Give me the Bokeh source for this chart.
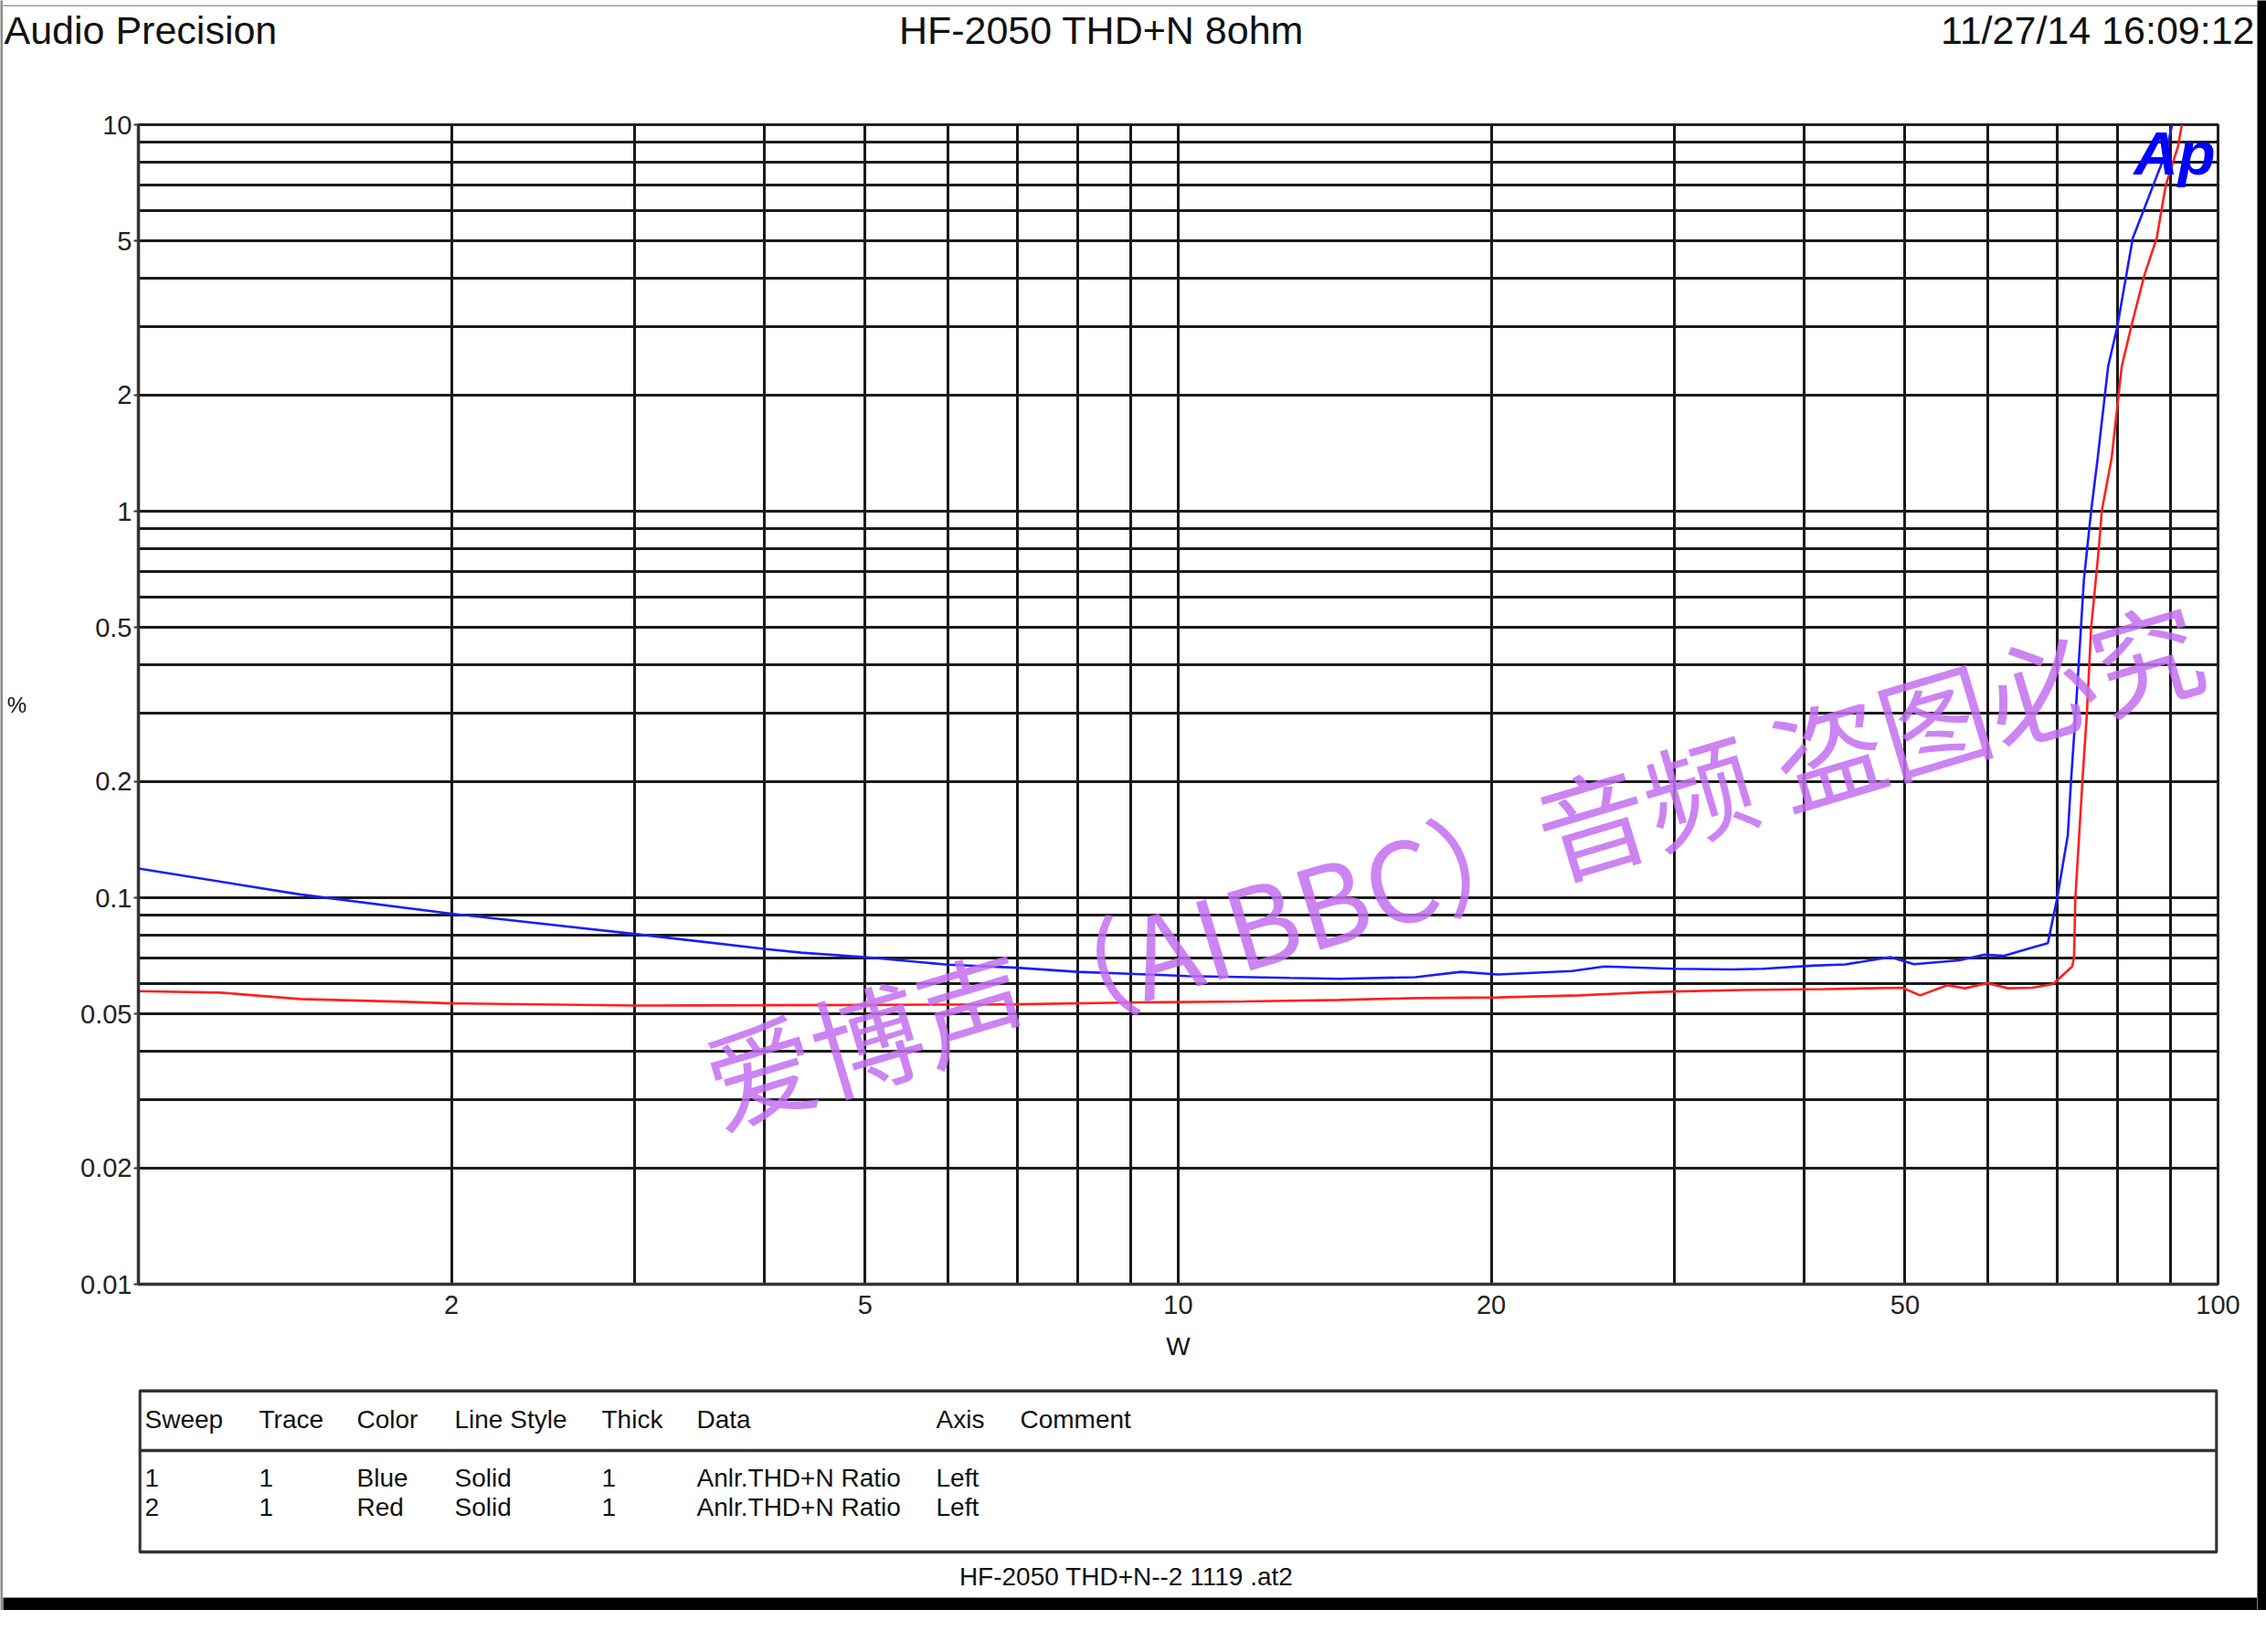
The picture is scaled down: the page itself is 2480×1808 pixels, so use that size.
from bokeh.plotting import figure
from bokeh.models import Range1d, FixedTicker, Label
from bokeh.layouts import column, row
from bokeh.embed import file_html
from bokeh.resources import INLINE

# ---------------- data ----------------
blue_w = [1.0, 1.43, 2.0, 3.0, 4.0, 4.34, 5.0, 6.0, 7.0, 8.0, 9.1, 10.2, 12.8, 14.3, 16.9,
          18.7, 20.3, 23.9, 25.7, 30.0, 34.0, 36.5, 40.7, 43.8, 48.4, 51.0, 56.4, 59.5,
          62.3, 65.7, 68.6, 70.0, 71.7, 72.2, 73.0, 74.3, 75.5, 76.6, 78.4, 80.0, 82.8,
          85.0, 87.0, 89.1, 90.3]
blue_pct = [0.119, 0.102, 0.0909, 0.0806, 0.0737, 0.0721, 0.0702, 0.0671, 0.0659, 0.0643,
            0.0635, 0.0627, 0.0620, 0.0617, 0.0623, 0.0643, 0.0633, 0.0646, 0.0664, 0.0655,
            0.0652, 0.0655, 0.0667, 0.0672, 0.0702, 0.0673, 0.0689, 0.0712, 0.0708, 0.0738,
            0.0763, 0.0991, 0.145, 0.199, 0.308, 0.664, 1.0, 1.37, 2.37, 3.0, 5.09, 6.1,
            7.18, 8.46, 9.96]

red_w = [1.0, 1.2, 1.43, 1.8, 2.0, 3.0, 4.0, 5.0, 6.0, 7.0, 9.2, 11.6, 14.3, 16.9, 20.3,
         24.3, 28.1, 30.0, 34.9, 41.8, 49.7, 51.7, 54.9, 57.1, 60.0, 62.8, 66.3, 69.4,
         72.4, 72.7, 72.9, 74.1, 74.8, 75.5, 76.8, 77.3, 79.0, 80.8, 82.5, 85.0, 87.3,
         89.1, 91.5, 92.3]
red_pct = [0.0573, 0.0568, 0.0547, 0.0538, 0.0533, 0.0526, 0.0527, 0.0528, 0.0529, 0.0530,
           0.0536, 0.0539, 0.0544, 0.0550, 0.0552, 0.0559, 0.0569, 0.0572, 0.0577, 0.0580,
           0.0585, 0.0559, 0.0594, 0.0583, 0.0601, 0.0583, 0.0585, 0.0598, 0.0664, 0.0702,
           0.0991, 0.205, 0.30, 0.50, 0.80, 1.0, 1.37, 2.37, 3.0, 4.1, 5.09, 7.0, 8.77, 10.0]

x_tick_vals = [2, 5, 10, 20, 50, 100]
x_tick_labels = ["2", "5", "10", "20", "50", "100"]
y_tick_vals = [0.01, 0.02, 0.05, 0.1, 0.2, 0.5, 1, 2, 5, 10]
y_tick_labels = ["0.01", "0.02", "0.05", "0.1", "0.2", "0.5", "1", "2", "5", "10"]

title_left = "Audio Precision"
title_center = "HF-2050  THD+N 8ohm"
title_right = "11/27/14 16:09:12"
x_label = "W"
y_label = "%"
logo_text = "Ap"
watermark_text = "爱博声（AIBBC）音频 盗图必究"
table_headers = ["Sweep", "Trace", "Color", "Line Style", "Thick", "Data", "Axis", "Comment"]
table_rows = [["1", "1", "Blue", "Solid", "1", "Anlr.THD+N Ratio", "Left", ""],
              ["2", "1", "Red", "Solid", "1", "Anlr.THD+N Ratio", "Left", ""]]
footer_text = "HF-2050 THD+N--2  1119 .at2"

# ---------------- styling / layout ----------------
FONT = "Liberation Sans"
TXT = "#111111"
LEFT_LINE = 3          # grey left frame line
W = 2467               # width of the central column
BL, BR = 148, 43       # borders -> plot frame spans page x 151 .. 2427
BLUE = "#1c1cff"
RED = "#ff2020"


def no_align(f):
    if hasattr(f, "frame_align"):
        f.frame_align = False
    return f


def blank(width, height, xr, yr, **kw):
    f = figure(width=width, height=height, x_range=xr, y_range=yr,
               output_backend="svg", toolbar_location=None,
               x_axis_location=None, y_axis_location=None, **kw)
    f.grid.visible = False
    f.outline_line_color = None
    return no_align(f)


def solid(width, height, color):
    f = blank(width, height, Range1d(0, 1), Range1d(0, 1), min_border=0)
    f.background_fill_color = color
    f.border_fill_color = color
    return f


top_band = solid(W, 7, "#9c9c9c")
bottom_bar = solid(W, 14, "#000000")

# header: full-width frame, data coords == page pixels
hdr = blank(W, 93, Range1d(3, 2470), Range1d(100, 7), min_border=0)
for txt, xx, al in [(title_left, 4, "left"), (title_center, 1211, "center"),
                    (title_right, 2467, "right")]:
    hdr.add_layout(Label(x=xx, y=32, text=txt, text_align=al, text_baseline="middle",
                         text_font=FONT, text_font_size="43px", text_color=TXT))

# main chart
p = figure(width=W, height=1400, x_axis_type="log", y_axis_type="log",
           x_range=Range1d(1, 100), y_range=Range1d(0.01, 10),
           output_backend="svg", toolbar_location=None,
           min_border_left=BL, min_border_right=BR, min_border_top=36,
           min_border_bottom=95)
p.background_fill_color = "white"
p.outline_line_color = "#222222"
p.outline_line_width = 3

grid_x = [m * d for d in (1, 10) for m in range(2, 10)] + [10]
grid_y = [m * d for d in (0.01, 0.1, 1) for m in range(1, 10)] + [10]
p.xgrid.ticker = FixedTicker(ticks=grid_x)
p.ygrid.ticker = FixedTicker(ticks=grid_y)
for g in (p.xgrid, p.ygrid):
    g.grid_line_color = "#1a1a1a"
    g.grid_line_width = 3

p.xaxis.ticker = FixedTicker(ticks=x_tick_vals)
p.xaxis.major_label_overrides = dict(zip(x_tick_vals, x_tick_labels))
p.yaxis.ticker = FixedTicker(ticks=y_tick_vals)
p.yaxis.major_label_overrides = dict(zip(y_tick_vals, y_tick_labels))

p.axis.axis_line_color = "#333333"
p.axis.axis_line_width = 3.5
p.axis.minor_tick_line_color = None
p.axis.major_label_text_font = FONT
p.axis.major_label_text_font_size = "29px"
p.axis.major_label_text_color = "#222222"
p.xaxis.major_tick_out = 0
p.xaxis.major_tick_in = 0
p.xaxis.major_label_standoff = 12
p.yaxis.major_tick_out = 5
p.yaxis.major_tick_in = 0
p.yaxis.major_tick_line_color = "#333333"
p.yaxis.major_tick_line_width = 2
p.yaxis.major_label_standoff = 2

p.xaxis.axis_label = x_label
p.xaxis.axis_label_text_font = FONT
p.xaxis.axis_label_text_font_size = "28px"
p.xaxis.axis_label_text_font_style = "normal"
p.xaxis.axis_label_text_color = TXT
p.xaxis.axis_label_standoff = 17

p.yaxis.axis_label = y_label
p.yaxis.axis_label_orientation = "horizontal"
p.yaxis.axis_label_text_font = FONT
p.yaxis.axis_label_text_font_size = "24px"
p.yaxis.axis_label_text_font_style = "normal"
p.yaxis.axis_label_text_color = TXT
p.yaxis.axis_label_standoff = 56

p.line(blue_w, blue_pct, line_color=BLUE, line_width=2.6)
p.line(red_w, red_pct, line_color=RED, line_width=2.6)

p.add_layout(Label(x=3.52, y=0.0332, text=watermark_text, angle=0.29,
                   text_align="left", text_baseline="middle",
                   text_font="Noto Sans CJK SC", text_font_size="121px",
                   text_color="#c36ef0", text_alpha=0.85))
p.add_layout(Label(x=83.0, y=8.45, text=logo_text, text_align="left",
                   text_baseline="alphabetic", text_font=FONT,
                   text_font_style="bold italic", text_font_size="67px",
                   text_color="#0000ff"))

# footer / legend table (data coords == page pixels)
ftr = blank(W, 248, Range1d(151, 2427), Range1d(1748, 1500),
            min_border_left=BL, min_border_right=BR, min_border_top=0, min_border_bottom=0)
ftr.quad(left=[152.5], right=[2425.5], top=[1521.7], bottom=[1698],
         fill_color=None, line_color="#333333", line_width=3.5)
ftr.segment(x0=[152.5], y0=[1587], x1=[2425.5], y1=[1587],
            line_color="#333333", line_width=3.5)
col_x = [158, 283, 390, 497, 658, 762, 1024, 1116]
for cx, h in zip(col_x, table_headers):
    ftr.add_layout(Label(x=cx, y=1553, text=h, text_align="left", text_baseline="middle",
                         text_font=FONT, text_font_size="28px", text_color=TXT))
for ry, r in zip([1617, 1649], table_rows):
    for cx, c in zip(col_x, r):
        if c:
            ftr.add_layout(Label(x=cx, y=ry, text=c, text_align="left",
                                 text_baseline="middle", text_font=FONT,
                                 text_font_size="28px", text_color=TXT))
ftr.add_layout(Label(x=1236, y=1725, text=footer_text, text_align="center",
                     text_baseline="middle", text_font=FONT, text_font_size="28px",
                     text_color=TXT))

left_line = solid(LEFT_LINE, 1762, "#8a8a8a")
right_bar = solid(10, 1762, "#000000")

layout = row(left_line, column(top_band, hdr, p, ftr, bottom_bar), right_bar)
open("out.html", "w").write(file_html(layout, INLINE))
